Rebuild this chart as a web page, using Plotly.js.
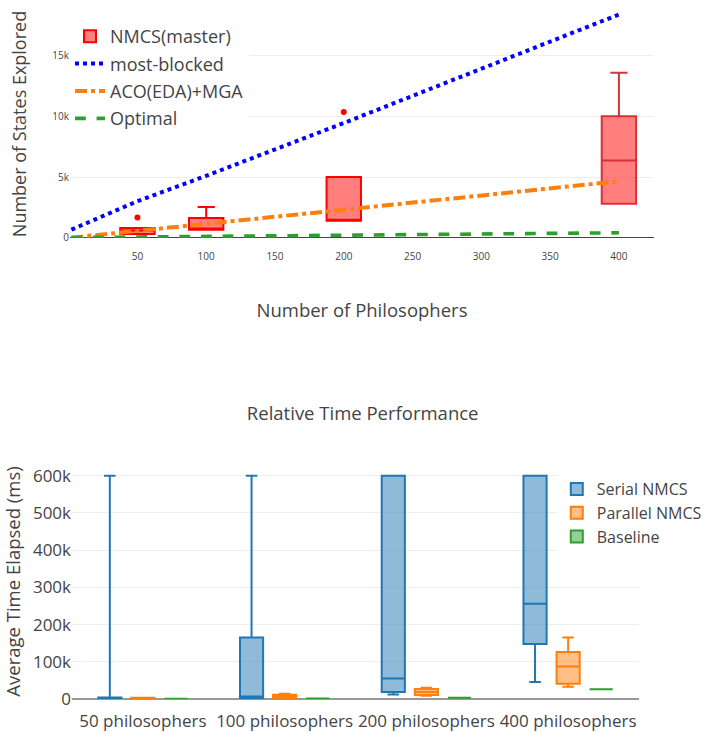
<!DOCTYPE html>
<html>
<head>
<meta charset="utf-8">
<script src="https://cdn.plot.ly/plotly-3.0.1.min.js"></script>
<style>
  html, body { margin: 0; padding: 0; background: #fff; }
  #top { width: 707px; height: 370px; }
  #bottom { width: 707px; height: 362px; }
</style>
</head>
<body>
<div id="top"></div>
<div id="bottom"></div>
<script>
// ---------- Top chart data ----------
const philosophers = [2, 50, 100, 200, 400];
const mostBlocked = [660, 3000, 5100, 9450, 18400];
const acoMga = [0, 550, 1200, 2300, 4650];
const optimal = [5, 50, 100, 200, 400];

const nmcsX = [50, 100, 200];
const nmcsQ1 = [300, 660, 1400];
const nmcsMedian = [580, 750, 1400];
const nmcsQ3 = [800, 1620, 5000];
const nmcsLower = [300, 660, 1400];
const nmcsUpper = [800, 2530, 5000];

const nmcs400X = [400];
const nmcs400Q1 = [2800];
const nmcs400Median = [6370];
const nmcs400Q3 = [10000];
const nmcs400Lower = [2800];
const nmcs400Upper = [13600];

const outlierX = [50, 200];
const outlierY = [1670, 10360];

// ---------- Bottom chart data ----------
const groups = ['50 philosophers', '100 philosophers', '200 philosophers', '400 philosophers'];
const serialQ1 = [1000, 3000, 19000, 148000];
const serialMedian = [2000, 7000, 55000, 256000];
const serialQ3 = [4000, 165000, 600000, 600000];
const serialLower = [1000, 2000, 12000, 46000];
const serialUpper = [600000, 600000, 600000, 600000];

const parallelQ1 = [1500, 3000, 11000, 41000];
const parallelMedian = [2500, 8000, 19000, 87000];
const parallelQ3 = [3500, 11500, 27000, 126000];
const parallelLower = [1500, 3000, 9000, 33000];
const parallelUpper = [3500, 14000, 30000, 165000];

const baseQ1 = [1000, 1500, 3500, 26000];
const baseMedian = [1000, 1500, 3500, 26000];
const baseQ3 = [1000, 1500, 3500, 26000];
const baseLower = [1000, 1500, 3500, 26000];
const baseUpper = [1000, 1500, 3500, 26000];

const font = { family: '"Open Sans", verdana, arial, sans-serif', color: '#444' };

// ---------- Top chart ----------
const topTraces = [
  {
    type: 'box', name: 'NMCS(master)', x: nmcsX,
    q1: nmcsQ1, median: nmcsMedian, q3: nmcsQ3,
    lowerfence: nmcsLower, upperfence: nmcsUpper,
    width: 25, boxpoints: false, offsetgroup: 'n', legendgroup: 'n',
    fillcolor: 'rgba(255,0,0,0.5)', line: { color: 'red', width: 2 },
    marker: { color: 'red' }
  },
  {
    type: 'box', name: 'NMCS(master)', x: nmcs400X,
    q1: nmcs400Q1, median: nmcs400Median, q3: nmcs400Q3,
    lowerfence: nmcs400Lower, upperfence: nmcs400Upper,
    width: 25, boxpoints: false, offsetgroup: 'n', legendgroup: 'n', showlegend: false,
    fillcolor: 'rgba(255,0,0,0.5)', line: { color: '#d9303a', width: 2 }
  },
  {
    type: 'scatter', mode: 'markers', x: outlierX, y: outlierY, showlegend: false,
    legendgroup: 'n', marker: { color: 'red', size: 6 }
  },
  {
    type: 'scatter', mode: 'lines', name: 'most-blocked', x: philosophers, y: mostBlocked,
    legendgroup: 'mb', line: { color: 'blue', width: 4, dash: 'dot' }
  },
  {
    type: 'scatter', mode: 'lines', name: 'ACO(EDA)+MGA', x: philosophers, y: acoMga,
    legendgroup: 'aco', line: { color: '#ff7f0e', width: 4, dash: 'dashdot' }
  },
  {
    type: 'scatter', mode: 'lines', name: 'Optimal', x: philosophers, y: optimal,
    legendgroup: 'opt', line: { color: '#2ca02c', width: 3.6, dash: 'dash' }
  }
];

const topLayout = {
  width: 707, height: 370,
  margin: { l: 70, r: 53, t: 10, b: 132, autoexpand: false },
  font: font,
  paper_bgcolor: '#fff', plot_bgcolor: '#fff',
  showlegend: true,
  legend: { x: 0, y: 0.965, xanchor: 'left', yanchor: 'top', bgcolor: '#fff', font: { size: 18 }, tracegroupgap: 1 },
  xaxis: {
    range: [1, 425.5], tickvals: [50, 100, 150, 200, 250, 300, 350, 400],
    showgrid: false, zeroline: false, tickfont: { size: 10 }, ticklabelstandoff: 11,
    title: { text: 'Number of Philosophers', font: { size: 18.5 }, standoff: 42 }
  },
  yaxis: {
    range: [-30, 18770], tickvals: [0, 5000, 10000, 15000], ticktext: ['0', '5k', '10k', '15k'],
    gridcolor: '#eee', zeroline: true, zerolinecolor: '#444', zerolinewidth: 1,
    tickfont: { size: 10 },
    title: { text: 'Number of States Explored', font: { size: 18 }, standoff: 20 }
  }
};

// ---------- Bottom chart ----------
const bottomTraces = [
  {
    type: 'box', name: 'Serial NMCS', x: groups,
    q1: serialQ1, median: serialMedian, q3: serialQ3,
    lowerfence: serialLower, upperfence: serialUpper, boxpoints: false,
    marker: { color: '#1f77b4' }, line: { width: 2 }
  },
  {
    type: 'box', name: 'Parallel NMCS', x: groups,
    q1: parallelQ1, median: parallelMedian, q3: parallelQ3,
    lowerfence: parallelLower, upperfence: parallelUpper, boxpoints: false,
    marker: { color: '#ff7f0e' }, line: { width: 2 }
  },
  {
    type: 'box', name: 'Baseline', x: groups,
    q1: baseQ1, median: baseMedian, q3: baseQ3,
    lowerfence: baseLower, upperfence: baseUpper, boxpoints: false,
    marker: { color: '#2ca02c' }, line: { width: 2 }
  }
];

const bottomLayout = {
  width: 707, height: 362,
  margin: { l: 72, r: 68, t: 94, b: 33, autoexpand: false },
  font: font,
  paper_bgcolor: '#fff', plot_bgcolor: '#fff',
  boxmode: 'group',
  title: { text: 'Relative Time Performance', font: { size: 18.5 }, x: 0.513, xanchor: 'center', y: 0.881, yanchor: 'middle' },
  legend: { x: 0.855, y: 0.966, xanchor: 'left', yanchor: 'top', bgcolor: '#fff', font: { size: 16 } },
  xaxis: { tickfont: { size: 17 }, tickangle: 0, showgrid: false, zeroline: false, ticklabelstandoff: 10 },
  yaxis: {
    range: [0, 631500], tickvals: [0, 100000, 200000, 300000, 400000, 500000, 600000],
    ticktext: ['0', '100k', '200k', '300k', '400k', '500k', '600k'],
    gridcolor: '#eee', zeroline: true, zerolinecolor: '#999', zerolinewidth: 2,
    tickfont: { size: 17 },
    title: { text: 'Average Time Elapsed (ms)', font: { size: 18.5 }, standoff: 10 }
  }
};

Plotly.newPlot('top', topTraces, topLayout, { displayModeBar: false, staticPlot: true });
Plotly.newPlot('bottom', bottomTraces, bottomLayout, { displayModeBar: false, staticPlot: true });
</script>
</body>
</html>
